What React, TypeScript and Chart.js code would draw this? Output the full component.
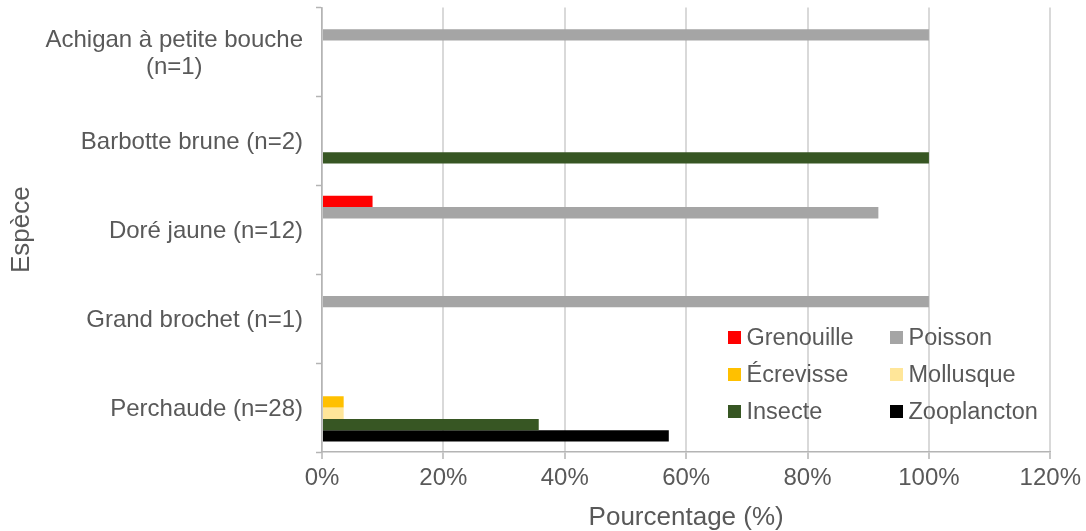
import { useEffect, useRef } from "react";
import { Chart, registerables } from "chart.js";

Chart.register(...registerables);

// Species on the vertical axis (arrays are multi-line labels)
const species: (string | string[])[] = [
  ["Achigan à petite bouche", "(n=1)"],
  "Barbotte brune (n=2)",
  "Doré jaune (n=12)",
  "Grand brochet (n=1)",
  "Perchaude (n=28)",
];

// Share of each prey type in the diet, in %
const grenouille = [0, 0, 8.33, 0, 0];
const poisson = [100, 0, 91.67, 100, 0];
const ecrevisse = [0, 0, 0, 0, 3.57];
const mollusque = [0, 0, 0, 0, 3.57];
const insecte = [0, 100, 0, 0, 35.71];
const zooplancton = [0, 0, 0, 0, 57.14];

const preyNames = ["Grenouille", "Poisson", "Écrevisse", "Mollusque", "Insecte", "Zooplancton"];
const preyValues = [grenouille, poisson, ecrevisse, mollusque, insecte, zooplancton];
const preyColors = ["#FF0000", "#A5A5A5", "#FFC000", "#FFE699", "#375623", "#000000"];

const xTicks = [0, 20, 40, 60, 80, 100, 120];

const FONT = "'Liberation Sans', Arial, sans-serif";
const TEXT = "#595959";
const AXIS = "#b4b4b4";
const GRID = "#d9d9d9";

// Category labels: block right-aligned against the axis, lines centred within the block
const speciesLabels = {
  id: "speciesLabels",
  afterDraw(chart: any) {
    const { ctx } = chart;
    const yScale = chart.scales.y;
    const right = 303;
    const lineH = 27;
    ctx.save();
    ctx.font = `24px ${FONT}`;
    ctx.fillStyle = TEXT;
    ctx.textAlign = "center";
    ctx.textBaseline = "alphabetic";
    (chart.data.labels as (string | string[])[]).forEach((lab, i) => {
      const lines = Array.isArray(lab) ? lab : [lab];
      const w = Math.max(...lines.map((l) => ctx.measureText(l).width));
      const cx = right - w / 2;
      const cy = yScale.getPixelForValue(i);
      lines.forEach((l, k) => {
        ctx.fillText(l, cx, cy + 8.5 + (k - (lines.length - 1) / 2) * lineH);
      });
    });
    ctx.restore();
  },
};

// Two-column legend inside the plot area
const preyLegend = {
  id: "preyLegend",
  afterDraw(chart: any) {
    const { ctx } = chart;
    const cols = [728, 890];
    const rows = [337.5, 374.5, 411.5];
    ctx.save();
    ctx.font = `23.5px ${FONT}`;
    ctx.textAlign = "left";
    ctx.textBaseline = "alphabetic";
    chart.data.datasets.forEach((ds: any, i: number) => {
      const x = cols[i % 2];
      const y = rows[Math.floor(i / 2)];
      ctx.fillStyle = ds.backgroundColor;
      ctx.fillRect(x, y - 6.5, 13, 13);
      ctx.fillStyle = TEXT;
      ctx.fillText(ds.label, x + 18.5, y + 7.5);
    });
    ctx.restore();
  },
};

export default function App() {
  const canvasRef = useRef<HTMLCanvasElement | null>(null);

  useEffect(() => {
    if (!canvasRef.current) return;
    const chart = new Chart(canvasRef.current, {
      type: "bar",
      data: {
        labels: species,
        datasets: preyNames.map((name, i) => ({
          label: name,
          data: preyValues[i],
          backgroundColor: preyColors[i],
          borderWidth: 0,
          barPercentage: 1,
          categoryPercentage: 0.765,
        })),
      },
      options: {
        indexAxis: "y",
        responsive: false,
        animation: false,
        events: [],
        layout: { padding: { top: 7.5, right: 33, left: 0, bottom: 0 } },
        plugins: {
          legend: { display: false },
          tooltip: { enabled: false },
        },
        scales: {
          x: {
            type: "linear",
            min: 0,
            max: 120,
            afterBuildTicks: (scale: any) => {
              scale.ticks = xTicks.map((v) => ({ value: v }));
            },
            afterFit: (scale: any) => {
              scale.height = 79;
            },
            ticks: {
              color: TEXT,
              font: { family: FONT, size: 24 },
              padding: 5,
              maxRotation: 0,
              callback: (v: any) => `${v}%`,
            },
            grid: {
              color: GRID,
              lineWidth: 2,
              tickColor: AXIS,
              tickWidth: 1.5,
              tickLength: 7,
            },
            border: { display: true, color: AXIS, width: 1.5 },
            title: {
              display: true,
              text: "Pourcentage (%)",
              color: TEXT,
              font: { family: FONT, size: 26, lineHeight: 1.0 },
              padding: { top: 0, bottom: 0 },
            },
          },
          y: {
            type: "category",
            afterFit: (scale: any) => {
              scale.width = 322;
            },
            ticks: { display: false },
            grid: {
              offset: true,
              drawOnChartArea: false,
              drawTicks: true,
              tickLength: 6,
              tickColor: AXIS,
              tickWidth: 1.5,
            },
            border: { display: true, color: AXIS, width: 1.5 },
            title: {
              display: true,
              text: "Espèce",
              color: TEXT,
              font: { family: FONT, size: 26, lineHeight: 1.0 },
              padding: { top: 9, bottom: 0 },
            },
          },
        },
      },
      plugins: [speciesLabels, preyLegend],
    });
    return () => chart.destroy();
  }, []);

  return (
    <div style={{ position: "absolute", left: 0, top: 0, width: 1086, height: 531, background: "#fff" }}>
      <canvas ref={canvasRef} width={1086} height={531} style={{ display: "block" }} />
    </div>
  );
}
